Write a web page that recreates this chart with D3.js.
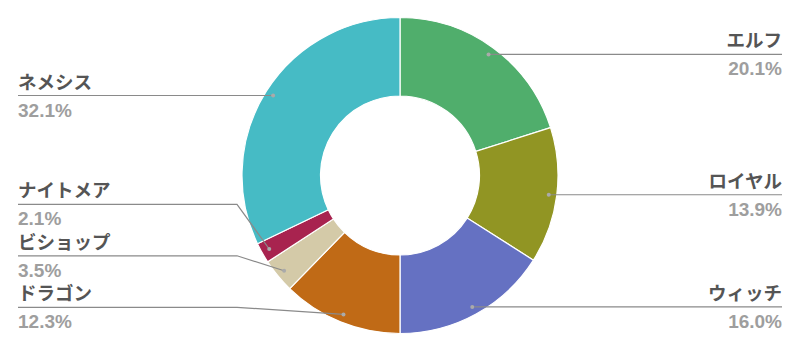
<!DOCTYPE html>
<html><head><meta charset="utf-8">
<script src="https://cdn.jsdelivr.net/npm/d3@7"></script>
<style>body{margin:0;background:#fff}svg{display:block}</style>
</head><body>
<svg id="chart" width="800" height="351"></svg>
<script>
const categories = ["エルフ","ロイヤル","ウィッチ","ドラゴン","ビショップ","ナイトメア","ネメシス"];
const values = [20.1, 13.9, 16.0, 12.3, 3.5, 2.1, 32.1];
const colors = ["#50ae6c","#919523","#6571c2","#c06a16","#d4caa8","#a8234f","#46bbc5"];

const W = 800, H = 351;
const cx = 400, cy = 175.5, R = 158, r0 = 79.5, dotR = 150;
const svg = d3.select("#chart");
const g = svg.append("g").attr("transform", `translate(${cx},${cy})`);

const pie = d3.pie().sort(null).value(d => d.v);
const data = categories.map((c, i) => ({name: c, v: values[i], color: colors[i]}));
const arcs = pie(data);
const arc = d3.arc().innerRadius(r0).outerRadius(R);
const dotArc = d3.arc().innerRadius(dotR).outerRadius(dotR);

g.selectAll("path.slice").data(arcs).join("path")
  .attr("class","slice")
  .attr("d", arc)
  .attr("fill", d => d.data.color)
  .attr("stroke", "#fff").attr("stroke-width", 1.2);

// label layout
const labels = arcs.map(a => {
  const mid = (a.startAngle + a.endAngle) / 2;
  const [dx, dy] = dotArc.centroid(a);
  return {a, name: a.data.name, v: a.data.v, side: mid < Math.PI ? "right" : "left",
          dx: cx + dx, dy: cy + dy, ly: cy + dy};
});
const spacing = 51.5, maxY = H - 43.7;
["left","right"].forEach(side => {
  const ls = labels.filter(l => l.side === side).sort((p, q) => q.dy - p.dy);
  let limit = maxY;
  ls.forEach(l => { l.ly = Math.min(l.dy, limit); limit = l.ly - spacing; });
});

const xL = 18, xR = 782, elbowL = 237, elbowR = W - 237;
const lg = svg.append("g");
labels.forEach(l => {
  const right = l.side === "right";
  const xEnd = right ? xR : xL;
  const xElb = right ? elbowR : elbowL;
  const pts = Math.abs(l.ly - l.dy) < 0.5
    ? [[l.dx, l.dy], [xEnd, l.ly]]
    : [[l.dx, l.dy], [xElb, l.ly], [xEnd, l.ly]];
  lg.append("path").attr("d", d3.line()(pts))
    .attr("fill","none").attr("stroke","#8a8a8a").attr("stroke-width",1.2);
  lg.append("circle").attr("cx", l.dx).attr("cy", l.dy).attr("r", 2)
    .attr("fill","#aaaaaa");
  const anchor = right ? "end" : "start";
  lg.append("text").attr("x", xEnd).attr("y", l.ly - 7)
    .attr("text-anchor", anchor)
    .attr("font-family","'Noto Sans CJK JP', sans-serif").attr("font-weight","bold")
    .attr("font-size", 18.5).attr("fill","#555555").text(l.name);
  lg.append("text").attr("x", xEnd).attr("y", l.ly + 21)
    .attr("text-anchor", anchor)
    .attr("font-family","'Liberation Sans', Arial, sans-serif").attr("font-weight","bold")
    .attr("font-size", 19).attr("fill","#9e9e9e").text(d3.format(".1f")(l.v) + "%");
});
</script>
</body></html>
